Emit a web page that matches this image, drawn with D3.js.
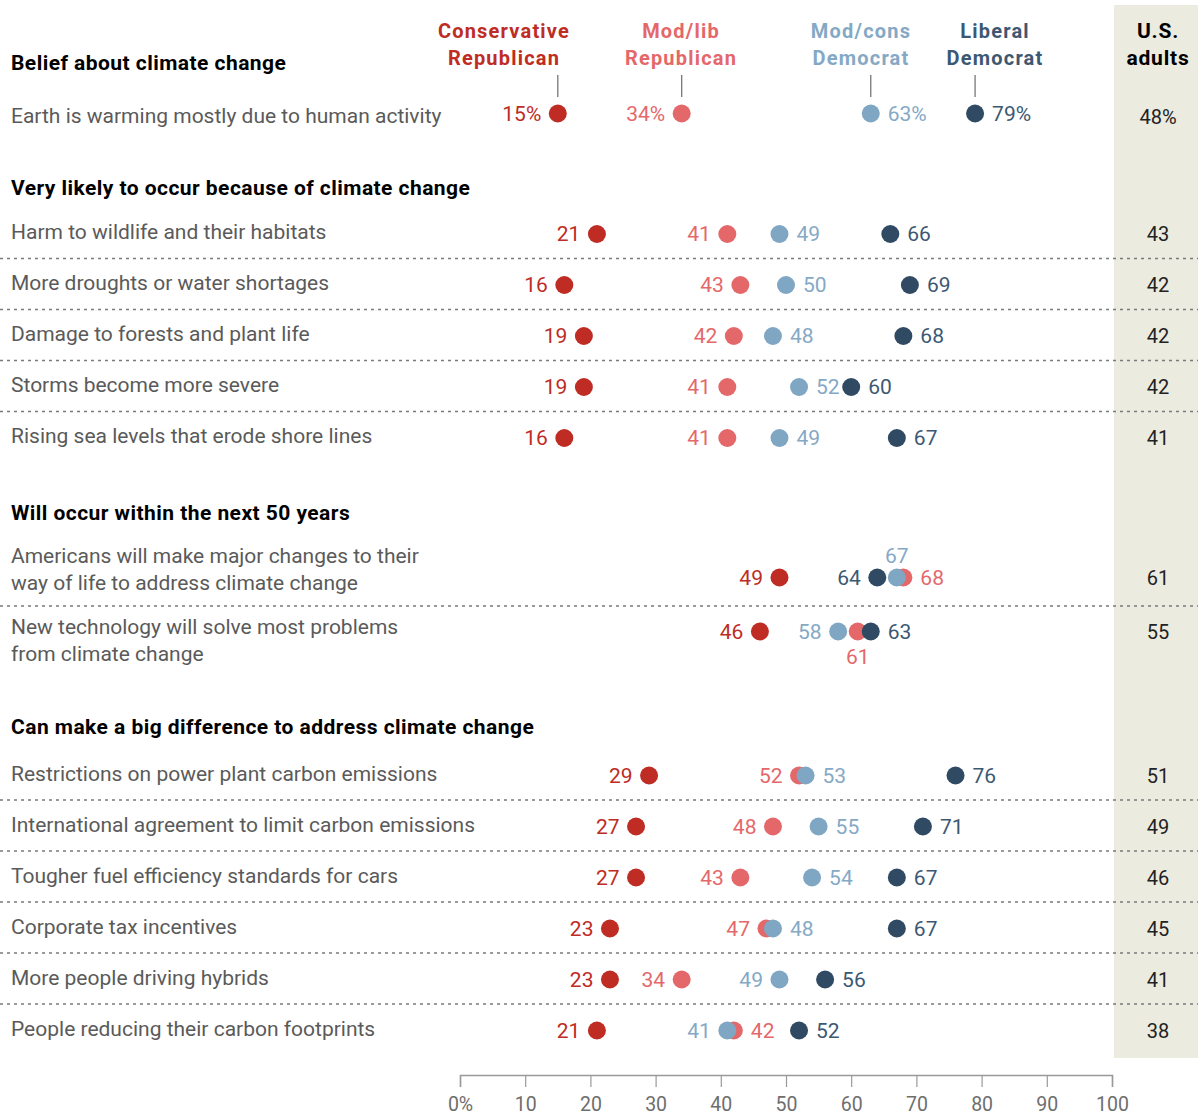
<!DOCTYPE html>
<html><head><meta charset="utf-8">
<script src="https://cdn.jsdelivr.net/npm/d3@7"></script>
<style>
html,body{margin:0;padding:0;background:#fff;}
svg{display:block;}
text{font-family:Roboto,"Liberation Sans",sans-serif;}
</style></head>
<body><svg id="c" width="1198" height="1116"></svg>
<script>
// ---------- data ----------
const groupNames = [["Conservative","Republican"],["Mod/lib","Republican"],["Mod/cons","Democrat"],["Liberal","Democrat"]];
const sectionTitles = ["Belief about climate change","Very likely to occur because of climate change","Will occur within the next 50 years","Can make a big difference to address climate change"];
const sectionOf = [0,1,1,1,1,1,2,2,3,3,3,3,3,3];
const rowLabels = [
 ["Earth is warming mostly due to human activity"],
 ["Harm to wildlife and their habitats"],
 ["More droughts or water shortages"],
 ["Damage to forests and plant life"],
 ["Storms become more severe"],
 ["Rising sea levels that erode shore lines"],
 ["Americans will make major changes to their","way of life to address climate change"],
 ["New technology will solve most problems","from climate change"],
 ["Restrictions on power plant carbon emissions"],
 ["International agreement to limit carbon emissions"],
 ["Tougher fuel efficiency standards for cars"],
 ["Corporate tax incentives"],
 ["More people driving hybrids"],
 ["People reducing their carbon footprints"]
];
const consRep   = [15,21,16,19,19,16,49,46,29,27,27,23,23,21];
const modLibRep = [34,41,43,42,41,41,68,61,52,48,43,47,34,42];
const modConsDem= [63,49,50,48,52,49,67,58,53,55,54,48,49,41];
const libDem    = [79,66,69,68,60,67,64,63,76,71,67,67,56,52];
const usAdults  = [48,43,42,42,42,41,61,55,51,49,46,45,41,38];
const xTicks = [0,10,20,30,40,50,60,70,80,90,100];

// ---------- style ----------
const colors = ["#be2c24","#e4686a","#7fa6c3","#2f4a62"];
const textColors = ["#be2c24","#e4686a","#85a9c5","#3d5872"];
const defaultSide = ["left","left","right","right"];
const sideOverride = {6:{3:"left",2:"above",1:"right"}, 7:{2:"left",1:"below",3:"right"}, 12:{2:"left"}, 13:{2:"left",1:"right"}};
const dotShift = {6:6.5, 7:-10.5};
const headerGap = [50, 45.5, 48.5, 48];

const svg = d3.select("#c");
const x = d3.scaleLinear().domain([0,100]).range([460,1112]);

// ---------- vertical layout ----------
const H1 = 51, H2 = 71;
const slotY = [], headerY = [], sepY = [];
let cur = 63, prevSec = -1, prevH = 0;
rowLabels.forEach((lab,i)=>{
  const s = sectionOf[i];
  const h = lab.length>1 ? H2 : H1;
  if(s!==prevSec){
    if(prevSec>=0){ cur += 75 + (prevH-H1)/2; }
    headerY[s] = cur;
    cur += headerGap[s] + (h-H1)/2;
  } else {
    const step = (prevH+h)/2;
    sepY.push(cur + step/2 - 0.5);
    cur += step;
  }
  slotY[i] = cur;
  prevSec = s; prevH = h;
});
const rowY = slotY.map((y,i)=> y + (dotShift[i]||0.5));

// U.S. adults column background
svg.append("rect").attr("x",1114).attr("y",5).attr("width",84).attr("height",1053).attr("fill","#ecebe0");

// separators
svg.selectAll("line.sep").data(sepY).join("line").attr("class","sep")
 .attr("x1",0).attr("x2",1198).attr("y1",d=>d).attr("y2",d=>d)
 .attr("stroke","#7a7a7a").attr("stroke-width",1.4).attr("stroke-dasharray","3,4");

// section headers
svg.selectAll("text.sec").data(sectionTitles).join("text").attr("class","sec")
 .attr("x",11).attr("y",(d,i)=>headerY[i]).attr("dy","0.35em")
 .attr("font-size",21).attr("font-weight","bold").attr("letter-spacing",0.45).attr("fill","#000").text(d=>d);

// row labels
rowLabels.forEach((lab,i)=>{
  const t = svg.append("text").attr("font-size",21).attr("fill","#5a5a5a");
  const base = i===0 ? slotY[i]+3 : slotY[i]-1.5;
  lab.forEach((ln,j)=>{
    t.append("tspan").attr("x",11).attr("y",base + (lab.length>1 ? (j-0.5)*27 : 0)).attr("dy","0.35em").text(ln);
  });
});

// group headers
const first = [consRep[0],modLibRep[0],modConsDem[0],libDem[0]];
const headerCenters = [504,681,861,995];
groupNames.forEach((g,k)=>{
  const t = svg.append("text").attr("text-anchor","middle").attr("font-size",20).attr("font-weight","bold")
    .attr("letter-spacing",1.2).attr("fill",textColors[k]);
  g.forEach((ln,j)=>t.append("tspan").attr("x",headerCenters[k]).attr("y",31+j*27).attr("dy","0.35em").text(ln));
  svg.append("line").attr("x1",x(first[k])).attr("x2",x(first[k])).attr("y1",75).attr("y2",97)
    .attr("stroke","#777").attr("stroke-width",1.3);
});
// U.S. adults header
const ua = svg.append("text").attr("text-anchor","middle").attr("font-size",21).attr("font-weight","bold")
  .attr("letter-spacing",0.8).attr("fill","#000");
["U.S.","adults"].forEach((ln,j)=>ua.append("tspan").attr("x",1158).attr("y",31+j*27).attr("dy","0.35em").text(ln));

// dots
const series = [consRep,modLibRep,modConsDem,libDem];
series.forEach((vals,k)=>{
  svg.append("g").selectAll("circle").data(vals).join("circle")
   .attr("cx",d=>x(d)).attr("cy",(d,i)=>rowY[i]).attr("r",9).attr("fill",colors[k]);
});
// value labels
series.forEach((vals,k)=>{
  svg.append("g").selectAll("text").data(vals).join("text")
   .each(function(d,i){
     const side = (sideOverride[i] && sideOverride[i][k]) || defaultSide[k];
     const sel = d3.select(this).attr("font-size",21).attr("fill",textColors[k]).attr("dy","0.35em")
       .text(d + (i===0?"%":""));
     if(side==="left") sel.attr("x",x(d)-16.5).attr("y",rowY[i]).attr("text-anchor","end");
     else if(side==="right") sel.attr("x",x(d)+17).attr("y",rowY[i]).attr("text-anchor","start");
     else if(side==="above") sel.attr("x",x(d)).attr("y",rowY[i]-22).attr("text-anchor","middle");
     else sel.attr("x",x(d)).attr("y",rowY[i]+25).attr("text-anchor","middle");
   });
});
// U.S. adults values
svg.append("g").selectAll("text").data(usAdults).join("text")
 .attr("x",1158).attr("y",(d,i)=>i===0?rowY[i]+3:rowY[i]).attr("dy","0.35em").attr("text-anchor","middle")
 .attr("font-size",20).attr("fill","#222").text((d,i)=>d+(i===0?"%":""));

// axis
const ax = svg.append("g").attr("transform","translate(0,1075)")
 .call(d3.axisBottom(x).tickValues(xTicks).tickSize(12).tickPadding(10).tickFormat(d=>d===0?"0%":d));
ax.select(".domain").attr("stroke","#999").attr("stroke-width",1.5);
ax.selectAll(".tick line").attr("stroke","#999").attr("stroke-width",1.2);
ax.selectAll(".tick text").attr("font-size",19.5).attr("fill","#6e6e6e").attr("font-family","Roboto,sans-serif");
</script></body></html>
